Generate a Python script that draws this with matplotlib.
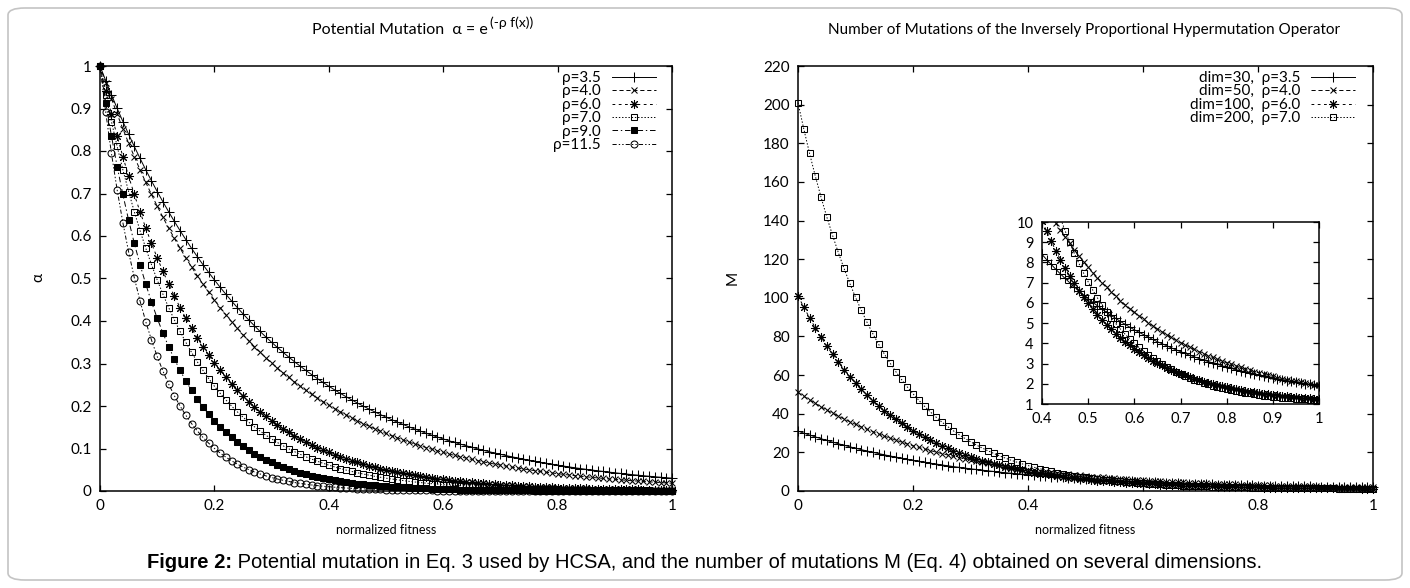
import numpy as np
import matplotlib.pyplot as plt
from matplotlib.patches import FancyBboxPatch
from matplotlib.ticker import FormatStrFormatter, MultipleLocator


#- Fonts and sizes

plt.rcParams['font.family'] = ['Lato', 'DejaVu Sans']
plt.rcParams['lines.scale_dashes'] = False

W, H = 1410, 588


def fx(px):
    return px / W


def fy(py):
    return 1 - py / H


#- Data: alpha = potential mutation for each rho (left panel),
#  M = number of mutations for each dim/rho pair (right panel + inset).

fitness = np.linspace(0, 1, 101)

rho_labels = ['ρ=3.5', 'ρ=4.0', 'ρ=6.0', 'ρ=7.0', 'ρ=9.0', 'ρ=11.5']

alpha_35 = [1.0000, 0.9656, 0.9324, 0.9003, 0.8694, 0.8395, 0.8106, 0.7827, 0.7558, 0.7298,
            0.7047, 0.6805, 0.6570, 0.6344, 0.6126, 0.5916, 0.5712, 0.5516, 0.5326, 0.5143,
            0.4966, 0.4795, 0.4630, 0.4471, 0.4317, 0.4169, 0.4025, 0.3887, 0.3753, 0.3624,
            0.3499, 0.3379, 0.3263, 0.3151, 0.3042, 0.2938, 0.2837, 0.2739, 0.2645, 0.2554,
            0.2466, 0.2381, 0.2299, 0.2220, 0.2144, 0.2070, 0.1999, 0.1930, 0.1864, 0.1800,
            0.1738, 0.1678, 0.1620, 0.1565, 0.1511, 0.1459, 0.1409, 0.1360, 0.1313, 0.1268,
            0.1225, 0.1182, 0.1142, 0.1103, 0.1065, 0.1028, 0.0993, 0.0958, 0.0926, 0.0894,
            0.0863, 0.0833, 0.0805, 0.0777, 0.0750, 0.0724, 0.0699, 0.0675, 0.0652, 0.0630,
            0.0608, 0.0587, 0.0567, 0.0547, 0.0529, 0.0510, 0.0493, 0.0476, 0.0460, 0.0444,
            0.0429, 0.0414, 0.0400, 0.0386, 0.0373, 0.0360, 0.0347, 0.0335, 0.0324, 0.0313,
            0.0302]
alpha_40 = [1.0000, 0.9608, 0.9231, 0.8869, 0.8521, 0.8187, 0.7866, 0.7558, 0.7261, 0.6977,
            0.6703, 0.6440, 0.6188, 0.5945, 0.5712, 0.5488, 0.5273, 0.5066, 0.4868, 0.4677,
            0.4493, 0.4317, 0.4148, 0.3985, 0.3829, 0.3679, 0.3535, 0.3396, 0.3263, 0.3135,
            0.3012, 0.2894, 0.2780, 0.2671, 0.2567, 0.2466, 0.2369, 0.2276, 0.2187, 0.2101,
            0.2019, 0.1940, 0.1864, 0.1791, 0.1720, 0.1653, 0.1588, 0.1526, 0.1466, 0.1409,
            0.1353, 0.1300, 0.1249, 0.1200, 0.1153, 0.1108, 0.1065, 0.1023, 0.0983, 0.0944,
            0.0907, 0.0872, 0.0837, 0.0805, 0.0773, 0.0743, 0.0714, 0.0686, 0.0659, 0.0633,
            0.0608, 0.0584, 0.0561, 0.0539, 0.0518, 0.0498, 0.0478, 0.0460, 0.0442, 0.0424,
            0.0408, 0.0392, 0.0376, 0.0362, 0.0347, 0.0334, 0.0321, 0.0308, 0.0296, 0.0284,
            0.0273, 0.0263, 0.0252, 0.0242, 0.0233, 0.0224, 0.0215, 0.0207, 0.0198, 0.0191,
            0.0183]
alpha_60 = [1.0000, 0.9418, 0.8869, 0.8353, 0.7866, 0.7408, 0.6977, 0.6570, 0.6188, 0.5827,
            0.5488, 0.5169, 0.4868, 0.4584, 0.4317, 0.4066, 0.3829, 0.3606, 0.3396, 0.3198,
            0.3012, 0.2837, 0.2671, 0.2516, 0.2369, 0.2231, 0.2101, 0.1979, 0.1864, 0.1755,
            0.1653, 0.1557, 0.1466, 0.1381, 0.1300, 0.1225, 0.1153, 0.1086, 0.1023, 0.0963,
            0.0907, 0.0854, 0.0805, 0.0758, 0.0714, 0.0672, 0.0633, 0.0596, 0.0561, 0.0529,
            0.0498, 0.0469, 0.0442, 0.0416, 0.0392, 0.0369, 0.0347, 0.0327, 0.0308, 0.0290,
            0.0273, 0.0257, 0.0242, 0.0228, 0.0215, 0.0202, 0.0191, 0.0180, 0.0169, 0.0159,
            0.0150, 0.0141, 0.0133, 0.0125, 0.0118, 0.0111, 0.0105, 0.0099, 0.0093, 0.0087,
            0.0082, 0.0078, 0.0073, 0.0069, 0.0065, 0.0061, 0.0057, 0.0054, 0.0051, 0.0048,
            0.0045, 0.0043, 0.0040, 0.0038, 0.0036, 0.0033, 0.0032, 0.0030, 0.0028, 0.0026,
            0.0025]
alpha_70 = [1.0000, 0.9324, 0.8694, 0.8106, 0.7558, 0.7047, 0.6570, 0.6126, 0.5712, 0.5326,
            0.4966, 0.4630, 0.4317, 0.4025, 0.3753, 0.3499, 0.3263, 0.3042, 0.2837, 0.2645,
            0.2466, 0.2299, 0.2144, 0.1999, 0.1864, 0.1738, 0.1620, 0.1511, 0.1409, 0.1313,
            0.1225, 0.1142, 0.1065, 0.0993, 0.0926, 0.0863, 0.0805, 0.0750, 0.0699, 0.0652,
            0.0608, 0.0567, 0.0529, 0.0493, 0.0460, 0.0429, 0.0400, 0.0373, 0.0347, 0.0324,
            0.0302, 0.0282, 0.0263, 0.0245, 0.0228, 0.0213, 0.0198, 0.0185, 0.0172, 0.0161,
            0.0150, 0.0140, 0.0130, 0.0122, 0.0113, 0.0106, 0.0099, 0.0092, 0.0086, 0.0080,
            0.0074, 0.0069, 0.0065, 0.0060, 0.0056, 0.0052, 0.0049, 0.0046, 0.0043, 0.0040,
            0.0037, 0.0034, 0.0032, 0.0030, 0.0028, 0.0026, 0.0024, 0.0023, 0.0021, 0.0020,
            0.0018, 0.0017, 0.0016, 0.0015, 0.0014, 0.0013, 0.0012, 0.0011, 0.0010, 0.0010,
            0.0009]
alpha_90 = [1.0000, 0.9139, 0.8353, 0.7634, 0.6977, 0.6376, 0.5827, 0.5326, 0.4868, 0.4449,
            0.4066, 0.3716, 0.3396, 0.3104, 0.2837, 0.2592, 0.2369, 0.2165, 0.1979, 0.1809,
            0.1653, 0.1511, 0.1381, 0.1262, 0.1153, 0.1054, 0.0963, 0.0880, 0.0805, 0.0735,
            0.0672, 0.0614, 0.0561, 0.0513, 0.0469, 0.0429, 0.0392, 0.0358, 0.0327, 0.0299,
            0.0273, 0.0250, 0.0228, 0.0209, 0.0191, 0.0174, 0.0159, 0.0146, 0.0133, 0.0122,
            0.0111, 0.0102, 0.0093, 0.0085, 0.0078, 0.0071, 0.0065, 0.0059, 0.0054, 0.0049,
            0.0045, 0.0041, 0.0038, 0.0034, 0.0032, 0.0029, 0.0026, 0.0024, 0.0022, 0.0020,
            0.0018, 0.0017, 0.0015, 0.0014, 0.0013, 0.0012, 0.0011, 0.0010, 0.0009, 0.0008,
            0.0007, 0.0007, 0.0006, 0.0006, 0.0005, 0.0005, 0.0004, 0.0004, 0.0004, 0.0003,
            0.0003, 0.0003, 0.0003, 0.0002, 0.0002, 0.0002, 0.0002, 0.0002, 0.0001, 0.0001,
            0.0001]
alpha_115 = [1.0000, 0.8914, 0.7945, 0.7082, 0.6313, 0.5627, 0.5016, 0.4471, 0.3985, 0.3552,
             0.3166, 0.2822, 0.2516, 0.2242, 0.1999, 0.1782, 0.1588, 0.1416, 0.1262, 0.1125,
             0.1003, 0.0894, 0.0797, 0.0710, 0.0633, 0.0564, 0.0503, 0.0448, 0.0400, 0.0356,
             0.0317, 0.0283, 0.0252, 0.0225, 0.0200, 0.0179, 0.0159, 0.0142, 0.0127, 0.0113,
             0.0101, 0.0090, 0.0080, 0.0071, 0.0063, 0.0057, 0.0050, 0.0045, 0.0040, 0.0036,
             0.0032, 0.0028, 0.0025, 0.0023, 0.0020, 0.0018, 0.0016, 0.0014, 0.0013, 0.0011,
             0.0010, 0.0009, 0.0008, 0.0007, 0.0006, 0.0006, 0.0005, 0.0005, 0.0004, 0.0004,
             0.0003, 0.0003, 0.0003, 0.0002, 0.0002, 0.0002, 0.0002, 0.0001, 0.0001, 0.0001,
             0.0001, 0.0001, 0.0001, 0.0001, 0.0001, 0.0001, 0.0001, 0.0000, 0.0000, 0.0000,
             0.0000, 0.0000, 0.0000, 0.0000, 0.0000, 0.0000, 0.0000, 0.0000, 0.0000, 0.0000,
             0.0000]

dim_labels = ['dim=30,  ρ=3.5', 'dim=50,  ρ=4.0', 'dim=100,  ρ=6.0', 'dim=200,  ρ=7.0']

m_30 = [31.00, 29.97, 28.97, 28.01, 27.08, 26.18, 25.32, 24.48, 23.67, 22.89,
        22.14, 21.41, 20.71, 20.03, 19.38, 18.75, 18.14, 17.55, 16.98, 16.43,
        15.90, 15.39, 14.89, 14.41, 13.95, 13.51, 13.08, 12.66, 12.26, 11.87,
        11.50, 11.14, 10.79, 10.45, 10.13, 9.81, 9.51, 9.22, 8.93, 8.66,
        8.40, 8.14, 7.90, 7.66, 7.43, 7.21, 7.00, 6.79, 6.59, 6.40,
        6.21, 6.03, 5.86, 5.69, 5.53, 5.38, 5.23, 5.08, 4.94, 4.80,
        4.67, 4.55, 4.43, 4.31, 4.19, 4.08, 3.98, 3.88, 3.78, 3.68,
        3.59, 3.50, 3.41, 3.33, 3.25, 3.17, 3.10, 3.03, 2.96, 2.89,
        2.82, 2.76, 2.70, 2.64, 2.59, 2.53, 2.48, 2.43, 2.38, 2.33,
        2.29, 2.24, 2.20, 2.16, 2.12, 2.08, 2.04, 2.01, 1.97, 1.94,
        1.91]
m_50 = [51.00, 49.04, 47.16, 45.35, 43.61, 41.94, 40.33, 38.79, 37.31, 35.88,
        34.52, 33.20, 31.94, 30.73, 29.56, 28.44, 27.36, 26.33, 25.34, 24.38,
        23.47, 22.59, 21.74, 20.93, 20.14, 19.39, 18.67, 17.98, 17.31, 16.67,
        16.06, 15.47, 14.90, 14.36, 13.83, 13.33, 12.85, 12.38, 11.94, 11.51,
        11.09, 10.70, 10.32, 9.95, 9.60, 9.26, 8.94, 8.63, 8.33, 8.04,
        7.77, 7.50, 7.25, 7.00, 6.77, 6.54, 6.32, 6.11, 5.91, 5.72,
        5.54, 5.36, 5.19, 5.02, 4.87, 4.71, 4.57, 4.43, 4.29, 4.16,
        4.04, 3.92, 3.81, 3.70, 3.59, 3.49, 3.39, 3.30, 3.21, 3.12,
        3.04, 2.96, 2.88, 2.81, 2.74, 2.67, 2.60, 2.54, 2.48, 2.42,
        2.37, 2.31, 2.26, 2.21, 2.16, 2.12, 2.07, 2.03, 1.99, 1.95,
        1.92]
m_100 = [101.00, 95.18, 89.69, 84.53, 79.66, 75.08, 70.77, 66.70, 62.88, 59.27,
         55.88, 52.69, 49.68, 46.84, 44.17, 41.66, 39.29, 37.06, 34.96, 32.98,
         31.12, 29.37, 27.71, 26.16, 24.69, 23.31, 22.01, 20.79, 19.64, 18.55,
         17.53, 16.57, 15.66, 14.81, 14.00, 13.25, 12.53, 11.86, 11.23, 10.63,
         10.07, 9.54, 9.05, 8.58, 8.14, 7.72, 7.33, 6.96, 6.61, 6.29,
         5.98, 5.69, 5.42, 5.16, 4.92, 4.69, 4.47, 4.27, 4.08, 3.90,
         3.73, 3.57, 3.42, 3.28, 3.15, 3.02, 2.91, 2.80, 2.69, 2.59,
         2.50, 2.41, 2.33, 2.25, 2.18, 2.11, 2.05, 1.99, 1.93, 1.87,
         1.82, 1.78, 1.73, 1.69, 1.65, 1.61, 1.57, 1.54, 1.51, 1.48,
         1.45, 1.43, 1.40, 1.38, 1.36, 1.33, 1.32, 1.30, 1.28, 1.26,
         1.25]
m_200 = [201.00, 187.48, 174.87, 163.12, 152.16, 141.94, 132.41, 123.53, 115.24, 107.52,
         100.32, 93.60, 87.34, 81.50, 76.06, 70.99, 66.26, 61.84, 57.73, 53.90,
         50.32, 46.99, 43.88, 40.98, 38.27, 35.75, 33.41, 31.21, 29.17, 27.27,
         25.49, 23.84, 22.29, 20.85, 19.51, 18.26, 17.09, 16.00, 14.99, 14.04,
         13.16, 12.34, 11.57, 10.86, 10.19, 9.57, 8.99, 8.45, 7.95, 7.48,
         7.04, 6.63, 6.25, 5.90, 5.56, 5.26, 4.97, 4.70, 4.45, 4.22,
         4.00, 3.80, 3.61, 3.43, 3.27, 3.11, 2.97, 2.84, 2.71, 2.60,
         2.49, 2.39, 2.29, 2.21, 2.13, 2.05, 1.98, 1.91, 1.85, 1.79,
         1.74, 1.69, 1.64, 1.60, 1.56, 1.52, 1.49, 1.45, 1.42, 1.39,
         1.37, 1.34, 1.32, 1.30, 1.28, 1.26, 1.24, 1.23, 1.21, 1.20,
         1.18]

alphas = [alpha_35, alpha_40, alpha_60, alpha_70, alpha_90, alpha_115]
mutations = [m_30, m_50, m_100, m_200]


#- Gnuplot-like line/point styles

styles = [
    dict(ls='-', marker='+', ms=6.5, mfc='none'),
    dict(ls=(0, (3, 2)), marker='x', ms=5, mfc='none'),
    dict(ls=(0, (2, 2.5)), marker=(8, 2, 0), ms=6.5, mfc='none'),
    dict(ls=(0, (1, 1.3)), marker='s', ms=5, mfc='none'),
    dict(ls=(0, (4, 2, 1, 2)), marker='s', ms=5, mfc='black'),
    dict(ls=(0, (3, 1.5, 1, 1.5, 1, 1.5)), marker='o', ms=5, mfc='none'),
]


def style_axes(ax, fs=11):
    ax.tick_params(direction='in', length=4.5, width=0.9, top=True, right=True,
                   labelsize=fs, pad=6)
    for s in ax.spines.values():
        s.set_linewidth(1.1)
    ax.xaxis.set_major_formatter(FormatStrFormatter('%g'))
    ax.yaxis.set_major_formatter(FormatStrFormatter('%g'))


def draw(ax, ys, labels, n, clip):
    for y, lab, st in zip(ys, labels, styles[:n]):
        ax.plot(fitness, y, color='black', lw=0.7, mew=0.75, mec='black',
                label=lab, clip_on=clip, **st)


fig = plt.figure(figsize=(W / 100, H / 100), dpi=100)

# outer rounded frame
frame = FancyBboxPatch((fx(8), fy(580)), fx(1394), 572 / H,
                       boxstyle='round,pad=0,rounding_size=0.012',
                       transform=fig.transFigure, fill=False,
                       edgecolor='#c4c4c4', lw=1.2)
fig.patches.append(frame)


#- Left panel: potential mutation

ax1 = fig.add_axes([fx(100), fy(491), fx(572), 425 / H])
draw(ax1, alphas, rho_labels, 6, False)
ax1.set_xlim(0, 1)
ax1.set_ylim(0, 1)
ax1.xaxis.set_major_locator(MultipleLocator(0.2))
ax1.yaxis.set_major_locator(MultipleLocator(0.1))
style_axes(ax1)
ax1.legend(loc='upper right', bbox_to_anchor=(0.972, 0.988), frameon=False,
           markerfirst=False, handlelength=2.9, handletextpad=0.7,
           labelspacing=-0.04, borderpad=0, borderaxespad=0, fontsize=11,
           numpoints=1)
fig.text(fx(386), fy(530), 'normalized fitness', ha='center', va='center', fontsize=9)
fig.text(fx(38), fy(278), 'α', ha='center', va='center', rotation=90, fontsize=11)


#- Right panel: number of mutations

ax2 = fig.add_axes([fx(798), fy(491), fx(575), 425 / H])
draw(ax2, mutations, dim_labels, 4, False)
ax2.set_xlim(0, 1)
ax2.set_ylim(0, 220)
ax2.xaxis.set_major_locator(MultipleLocator(0.2))
ax2.yaxis.set_major_locator(MultipleLocator(20))
style_axes(ax2)
ax2.legend(loc='upper right', bbox_to_anchor=(0.969, 0.988), frameon=False,
           markerfirst=False, handlelength=2.9, handletextpad=0.7,
           labelspacing=-0.04, borderpad=0, borderaxespad=0, fontsize=11,
           numpoints=1)
fig.text(fx(1085), fy(530), 'normalized fitness', ha='center', va='center', fontsize=9)
fig.text(fx(733), fy(278), 'M', ha='center', va='center', rotation=90, fontsize=11)

# inset zoom on the tail
ax3 = fig.add_axes([fx(1042), fy(404), fx(277), 182 / H])
ax3.set_facecolor('white')
draw(ax3, mutations, dim_labels, 4, True)
ax3.set_xlim(0.4, 1)
ax3.set_ylim(1, 10)
ax3.xaxis.set_major_locator(MultipleLocator(0.1))
ax3.yaxis.set_major_locator(MultipleLocator(1))
style_axes(ax3, fs=10.5)


#- Titles (superscript drawn as its own text)

fig.canvas.draw()
r = fig.canvas.get_renderer()

t1 = fig.text(0, fy(30), 'Potential Mutation  α = e', ha='left', va='center', fontsize=11.5)
t1s = fig.text(0, fy(23), '(-ρ f(x))', ha='left', va='center', fontsize=10)
w1 = t1.get_window_extent(r).width
w1s = t1s.get_window_extent(r).width
x_start = 423 - (w1 + 2 + w1s) / 2
t1.set_x(fx(x_start))
t1s.set_x(fx(x_start + w1 + 2))

fig.text(fx(1084), fy(30),
         'Number of Mutations of the Inversely Proportional Hypermutation Operator',
         ha='center', va='center', fontsize=11)


#- Caption with bold lead-in

c1 = fig.text(0, fy(563), 'Figure 2:', ha='left', va='center', fontsize=14.5,
              fontweight='bold', family='Liberation Sans')
c2 = fig.text(0, fy(563),
              ' Potential mutation in Eq. 3 used by HCSA, and the number of '
              'mutations M (Eq. 4) obtained on several dimensions.',
              ha='left', va='center', fontsize=14.5, family='Liberation Sans')
wc1 = c1.get_window_extent(r).width
wc2 = c2.get_window_extent(r).width
c_start = 705 - (wc1 + wc2) / 2
c1.set_x(fx(c_start))
c2.set_x(fx(c_start + wc1))

fig.savefig('out.png', dpi=100)
